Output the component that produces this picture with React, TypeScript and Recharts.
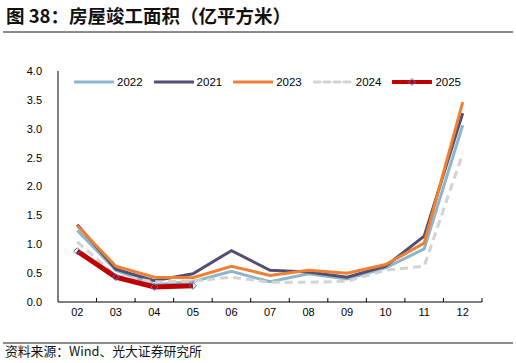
import { LineChart, Line, XAxis, YAxis } from "recharts";

const months = ["02", "03", "04", "05", "06", "07", "08", "09", "10", "11", "12"];
const y2022 = [1.24, 0.55, 0.3, 0.35, 0.53, 0.35, 0.49, 0.4, 0.59, 0.92, 3.06];
const y2021 = [1.34, 0.57, 0.37, 0.49, 0.89, 0.55, 0.52, 0.43, 0.62, 1.14, 3.27];
const y2023 = [1.32, 0.62, 0.43, 0.42, 0.62, 0.46, 0.55, 0.5, 0.65, 1.02, 3.46];
const y2024 = [1.04, 0.46, 0.35, 0.36, 0.43, 0.34, 0.34, 0.36, 0.55, 0.62, 2.57];
const y2025 = [0.88, 0.43, 0.26, 0.28];
const yTicks = [0, 0.5, 1, 1.5, 2, 2.5, 3, 3.5, 4];

const data = months.map((m, i) => ({
  month: m,
  "2022": y2022[i],
  "2021": y2021[i],
  "2023": y2023[i],
  "2024": y2024[i],
  "2025": y2025[i],
}));

const FONT = "'Liberation Sans', Arial, 'Noto Sans CJK SC', sans-serif";
const PLOT_LEFT = 58;
const PLOT_RIGHT = 482;
const PLOT_TOP = 71;
const PLOT_BOTTOM = 302;
const BAND = (PLOT_RIGHT - PLOT_LEFT) / months.length;

const series = [
  { key: "2022", color: "#8DB5CB", width: 3, dash: undefined },
  { key: "2021", color: "#524F70", width: 3, dash: undefined },
  { key: "2023", color: "#F07F32", width: 3, dash: undefined },
  { key: "2024", color: "#D3D3D3", width: 3, dash: "8 5" },
  { key: "2025", color: "#C00000", width: 5, dash: undefined },
];

function XTick(props: any) {
  const { x, y, payload } = props;
  return (
    <g>
      <line x1={x + BAND / 2} x2={x + BAND / 2} y1={PLOT_BOTTOM} y2={PLOT_BOTTOM - 4} stroke="#000" strokeWidth={1} />
      <text x={x} y={y + 6} textAnchor="middle" fontSize={11} fill="#000" fontFamily={FONT}>
        {payload.value}
      </text>
    </g>
  );
}

function Diamond(props: any) {
  const { cx, cy } = props;
  if (cx == null || cy == null) return null;
  return (
    <path
      d={`M${cx},${cy - 3.5}L${cx + 3.5},${cy}L${cx},${cy + 3.5}L${cx - 3.5},${cy}Z`}
      fill="none"
      stroke="#4A72C4"
      strokeWidth={1}
    />
  );
}

function LegendBox() {
  return (
    <div style={{ display: "flex", alignItems: "center", fontFamily: FONT, fontSize: 11.5, color: "#000" }}>
      {series.map((s) => (
        <div key={s.key} style={{ display: "flex", alignItems: "center", marginRight: 11 }}>
          <svg width={40} height={10}>
            <line x1={1} x2={39} y1={5} y2={5} stroke={s.color} strokeWidth={s.width === 5 ? 4 : 3}
              strokeDasharray={s.dash ? "6 4" : undefined} strokeLinecap="round" />
            {s.key === "2025" && <Diamond cx={20} cy={5} />}
          </svg>
          <span style={{ marginLeft: 3 }}>{s.key}</span>
        </div>
      ))}
    </div>
  );
}

export default function App() {
  return (
    <div style={{ position: "absolute", left: 0, top: 0, width: 516, height: 363, background: "#fff", fontFamily: FONT }}>
      <div style={{ position: "absolute", left: 6, top: 4, fontSize: 18.5, fontWeight: "bold", fontFamily: "'Noto Sans CJK SC', sans-serif", color: "#111", lineHeight: "22px", whiteSpace: "nowrap" }}>
        图 38：房屋竣工面积（亿平方米）
      </div>
      <div style={{ position: "absolute", left: 3, right: 3, top: 31, height: 2, background: "#8c8c8c" }} />
      <LineChart
        width={516}
        height={363}
        data={data}
        margin={{ top: PLOT_TOP, right: 516 - PLOT_RIGHT, left: 0, bottom: 31 }}
        style={{ position: "absolute", left: 0, top: 0 }}
      >
        <XAxis
          dataKey="month"
          height={30}
          axisLine={{ stroke: "#000" }}
          tickLine={false}
          tick={<XTick />}
          interval={0}
          padding={{ left: BAND / 2, right: BAND / 2 }}
        />
        <YAxis
          width={PLOT_LEFT}
          domain={[0, 4]}
          ticks={yTicks}
          tickFormatter={(v: number) => v.toFixed(1)}
          axisLine={{ stroke: "#000" }}
          tickLine={false}
          tick={{ fontSize: 11, fill: "#000", fontFamily: FONT }}
          tickMargin={10}
        />
        {series.map((s) => (
          <Line
            key={s.key}
            dataKey={s.key}
            stroke={s.color}
            strokeWidth={s.width}
            strokeDasharray={s.dash}
            dot={s.key === "2025" ? <Diamond /> : false}
            activeDot={false}
            isAnimationActive={false}
            connectNulls={false}
          />
        ))}
      </LineChart>
      <div style={{ position: "absolute", top: 76, left: 74, width: 430 }}>
        <LegendBox />
      </div>
      <div style={{ position: "absolute", left: 3, right: 3, top: 342, height: 1.5, background: "#8c8c8c" }} />
      <div style={{ position: "absolute", left: 5, top: 341.5, fontSize: 12.8, fontFamily: "'Noto Sans CJK SC', sans-serif", color: "#111", lineHeight: "17px", whiteSpace: "nowrap" }}>
        资料来源：Wind、光大证券研究所
      </div>
    </div>
  );
}
